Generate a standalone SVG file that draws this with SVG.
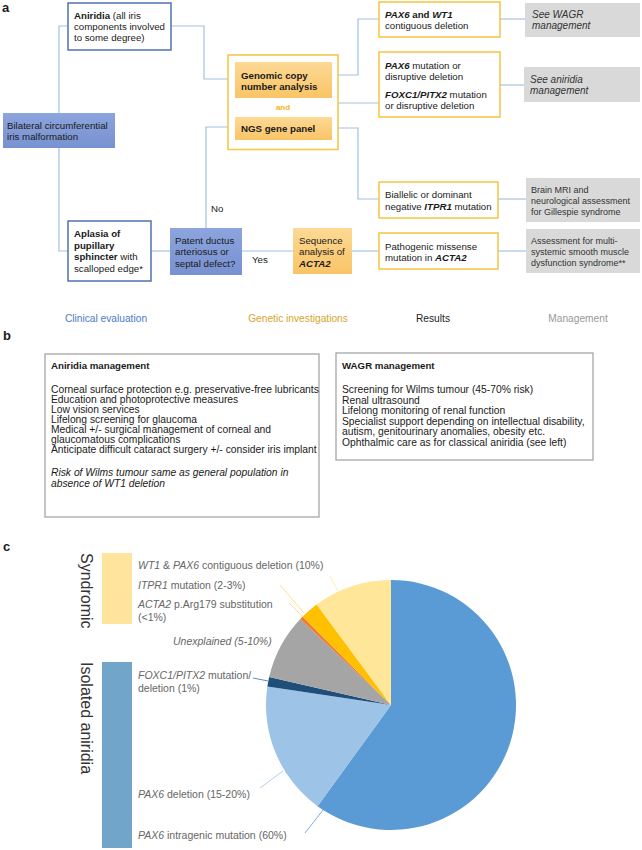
<svg xmlns="http://www.w3.org/2000/svg" width="642" height="850" viewBox="0 0 642 850">
<defs>
<linearGradient id="gBlue" x1="0" y1="0" x2="0" y2="1"><stop offset="0" stop-color="#8ca5de"/><stop offset="1" stop-color="#7891d0"/></linearGradient>
<linearGradient id="gOrange" x1="0" y1="0" x2="0" y2="1"><stop offset="0" stop-color="#fdd995"/><stop offset="1" stop-color="#f9c466"/></linearGradient>
</defs>
<style>
text{font-family:"Liberation Sans",Arial,sans-serif;fill:#1a1a1a}
.t{font-size:9.7px}
.s{font-size:10px;font-style:italic;fill:#333}
.m{font-size:9px;fill:#333}
.b{font-weight:bold}
.i{font-style:italic}
.bi{font-weight:bold;font-style:italic}
.lab{font-size:13px;font-weight:bold}
.wbox{fill:#fff;stroke:#4f73b0;stroke-width:1.5}
.ybox{fill:#fff;stroke:#f5c542;stroke-width:1.5}
.gbox{fill:#d9d9d9}
.bbox{fill:url(#gBlue)}
.obox{fill:url(#gOrange)}
.con{fill:none;stroke:#a3c1e3;stroke-width:1.2}
.hd{font-size:10.2px;text-anchor:middle}
.pb{font-size:10.3px}
.pbt{font-size:9.7px;font-weight:bold}
.mg{fill:#fff;stroke:#a6a6a6;stroke-width:1.3}
.pl{font-size:10.5px;fill:#666}
.side{font-size:16px;fill:#333}
.lead{fill:none;stroke-width:0.8}
</style>

<text class="lab" x="2" y="12">a</text>
<text class="lab" x="3" y="340">b</text>
<text class="lab" x="3" y="551">c</text>

<g id="connectors">
<path class="con" d="M68,26 H59 V251 H68"/>
<path class="con" d="M171,26 H204 V79 H228"/>
<path class="con" d="M228,127 H206 V228"/>
<path class="con" d="M151,251 H170"/>
<path class="con" d="M242,251 H293"/>
<path class="con" d="M352,251 H379"/>
<path class="con" d="M498,251 H526"/>
<path class="con" d="M338,75 H358 V19 H379"/>
<path class="con" d="M338,103 H379"/>
<path class="con" d="M338,128 H358 V199 H379"/>
<path class="con" d="M500,19 H525"/>
<path class="con" d="M500,85 H524"/>
<path class="con" d="M498,199 H526"/>
<text class="t" x="211" y="211.5">No</text>
<text class="t" x="252" y="262.5">Yes</text>
</g>

<g id="aniridia">
<rect class="wbox" x="68" y="3" width="103" height="47"/>
<text class="t" x="74" y="18.5"><tspan class="b">Aniridia</tspan> (all iris</text>
<text class="t" x="74" y="29.5">components involved</text>
<text class="t" x="74" y="40.5">to some degree)</text>
</g>

<g id="bilateral">
<rect class="bbox" x="3" y="113" width="112" height="35"/>
<text class="t" x="7" y="128.5">Bilateral circumferential</text>
<text class="t" x="7" y="139.5">iris malformation</text>
</g>

<g id="genetics">
<rect fill="#fff" stroke="#f5c542" stroke-width="1.5" x="228" y="55" width="110" height="94.5"/>
<rect class="obox" x="235" y="62" width="97" height="36"/>
<text class="t b" x="241" y="78.5">Genomic copy</text>
<text class="t b" x="241" y="89.5">number analysis</text>
<text class="b" x="283" y="110" font-size="8px" text-anchor="middle" style="fill:#f4b41a">and</text>
<rect class="obox" x="235" y="117" width="97" height="23"/>
<text class="t b" x="241" y="131.5">NGS gene panel</text>
</g>

<g id="aplasia">
<rect class="wbox" x="68" y="221" width="83" height="60"/>
<text class="t b" x="74" y="237">Aplasia of</text>
<text class="t b" x="74" y="248.5">pupillary</text>
<text class="t" x="74" y="260"><tspan class="b">sphincter</tspan> with</text>
<text class="t" x="74" y="271.5">scalloped edge*</text>
</g>

<g id="patent">
<rect class="bbox" x="170" y="228" width="72" height="47"/>
<text class="t" x="175" y="243.5">Patent ductus</text>
<text class="t" x="175" y="255">arteriosus or</text>
<text class="t" x="175" y="266.5">septal defect?</text>
</g>

<g id="sequence">
<rect class="obox" x="293" y="228" width="59" height="46"/>
<text class="t" x="299" y="243.5">Sequence</text>
<text class="t" x="299" y="254.5">analysis of</text>
<text class="t bi" x="299" y="266.5">ACTA2</text>
</g>

<g id="pax6wt1">
<rect class="ybox" x="379" y="2" width="121" height="35"/>
<text class="t" x="385" y="17.5"><tspan class="bi">PAX6</tspan><tspan class="b"> and </tspan><tspan class="bi">WT1</tspan></text>
<text class="t" x="385" y="29">contiguous deletion</text>
</g>

<g id="pax6mut">
<rect class="ybox" x="379" y="52" width="121" height="65"/>
<text class="t" x="385" y="68.5"><tspan class="bi">PAX6</tspan> mutation or</text>
<text class="t" x="385" y="79.5">disruptive deletion</text>
<text class="t" x="385" y="97.5"><tspan class="bi">FOXC1/PITX2</tspan> mutation</text>
<text class="t" x="385" y="109">or disruptive deletion</text>
</g>

<g id="biallelic">
<rect class="ybox" x="379" y="182" width="119" height="36"/>
<text class="t" x="385" y="197.5">Biallelic or dominant</text>
<text class="t" x="385" y="210">negative <tspan class="bi">ITPR1</tspan> mutation</text>
</g>

<g id="pathogenic">
<rect class="ybox" x="379" y="233" width="119" height="36"/>
<text class="t" x="385" y="249.5">Pathogenic missense</text>
<text class="t" x="385" y="260.5">mutation in <tspan class="bi">ACTA2</tspan></text>
</g>

<g id="wagr-ref">
<rect class="gbox" x="525" y="3" width="115" height="34"/>
<text class="s" x="532" y="17.5">See WAGR</text>
<text class="s" x="532" y="29">management</text>
</g>

<g id="aniridia-ref">
<rect class="gbox" x="524" y="67" width="116" height="35"/>
<text class="s" x="530" y="82.5">See aniridia</text>
<text class="s" x="530" y="94">management</text>
</g>

<g id="brain">
<rect class="gbox" x="526" y="178" width="114" height="44"/>
<text class="m" x="531" y="192.5">Brain MRI and</text>
<text class="m" x="531" y="204">neurological assessment</text>
<text class="m" x="531" y="214.5">for Gillespie syndrome</text>
</g>

<g id="assessment">
<rect class="gbox" x="526" y="229" width="114" height="44"/>
<text class="m" x="531" y="243.5">Assessment for multi-</text>
<text class="m" x="531" y="254.5">systemic smooth muscle</text>
<text class="m" x="531" y="265.5">dysfunction syndrome**</text>
</g>

<g id="headers">
<text class="hd" x="106" y="322" style="fill:#4a7cc9">Clinical evaluation</text>
<text class="hd" x="298" y="322" style="fill:#d4a62a">Genetic investigations</text>
<text class="hd" x="433" y="322" style="fill:#222">Results</text>
<text class="hd" x="578" y="322" style="fill:#999">Management</text>
</g>

<g id="aniridia-management">
<rect class="mg" x="45" y="354" width="274" height="163"/>
<text class="pbt" x="51" y="369">Aniridia management</text>
<text class="pb" x="51" y="392.5">Corneal surface protection e.g. preservative-free lubricants</text>
<text class="pb" x="51" y="402.5">Education and photoprotective measures</text>
<text class="pb" x="51" y="412.5">Low vision services</text>
<text class="pb" x="51" y="422.5">Lifelong screening for glaucoma</text>
<text class="pb" x="51" y="432.5">Medical +/- surgical management of corneal and</text>
<text class="pb" x="51" y="442.5">glaucomatous complications</text>
<text class="pb" x="51" y="452.5">Anticipate difficult cataract surgery +/- consider iris implant</text>
<text class="pb i" x="51" y="476">Risk of Wilms tumour same as general population in</text>
<text class="pb i" x="51" y="487">absence of WT1 deletion</text>
</g>

<g id="wagr-management">
<rect class="mg" x="336" y="353" width="257" height="107"/>
<text class="pbt" x="342" y="369">WAGR management</text>
<text class="pb" x="342" y="393">Screening for Wilms tumour (45-70% risk)</text>
<text class="pb" x="342" y="403.5">Renal ultrasound</text>
<text class="pb" x="342" y="414">Lifelong monitoring of renal function</text>
<text class="pb" x="342" y="424.5">Specialist support depending on intellectual disability,</text>
<text class="pb" x="342" y="435">autism, genitourinary anomalies, obesity etc.</text>
<text class="pb" x="342" y="445.5">Ophthalmic care as for classical aniridia (see left)</text>
</g>

<g id="pie">
<path fill="#5b9bd5" d="M391,705 L391,580 A125,125 0 1 1 317.53,806.13 Z"/>
<path fill="#9dc3e6" d="M391,705 L317.53,806.13 A125,125 0 0 1 267.37,686.52 Z"/>
<path fill="#1f4e79" d="M391,705 L267.37,686.52 A125,125 0 0 1 269.20,676.88 Z"/>
<path fill="#a5a5a5" d="M391,705 L269.20,676.88 A125,125 0 0 1 300.32,618.95 Z"/>
<path fill="#ed7d31" d="M391,705 L300.32,618.95 A125,125 0 0 1 302.61,616.61 Z"/>
<path fill="#ffc000" d="M391,705 L302.61,616.61 A125,125 0 0 1 316.65,604.51 Z"/>
<path fill="#ffe699" d="M391,705 L316.65,604.51 A125,125 0 0 1 391,580 Z"/>
</g>

<g id="leaders">
<path class="lead" stroke="#ffe699" d="M330,576 L338,591"/>
<path class="lead" stroke="#ffd966" d="M280,585 L304,613"/>
<path class="lead" stroke="#f8cbad" d="M289,603 L302,616"/>
<path class="lead" stroke="#2e75b6" d="M253,678 L268,681"/>
<path class="lead" stroke="#9dc3e6" d="M260,788 L283,771"/>
<path class="lead" stroke="#5b9bd5" d="M305,833 L323,810"/>
</g>

<g id="syndromic">
<rect x="102" y="553" width="30" height="71" fill="#fee49c"/>
<text class="side" transform="translate(80.5,553) rotate(90)">Syndromic</text>
</g>

<g id="isolated">
<rect x="102" y="662" width="30" height="186" fill="#71a5c9"/>
<text class="side" transform="translate(80.5,662) rotate(90)">Isolated aniridia</text>
</g>

<g id="pie-labels">
<text class="pl" x="138" y="568.5"><tspan class="i">WT1</tspan>  &amp; <tspan class="i">PAX6</tspan> contiguous deletion (10%)</text>
<text class="pl" x="138" y="589"><tspan class="i">ITPR1</tspan> mutation (2-3%)</text>
<text class="pl" x="138" y="608"><tspan class="i">ACTA2</tspan> p.Arg179 substitution</text>
<text class="pl" x="138" y="621">(&lt;1%)</text>
<text class="pl i" x="173" y="644.5">Unexplained (5-10%)</text>
<text class="pl" x="138" y="678.5"><tspan class="i">FOXC1/PITX2</tspan> mutation/</text>
<text class="pl" x="138" y="691.5">deletion (1%)</text>
<text class="pl" x="138" y="797.5"><tspan class="i">PAX6</tspan> deletion (15-20%)</text>
<text class="pl" x="138" y="838.5"><tspan class="i">PAX6</tspan> intragenic mutation (60%)</text>
</g>
</svg>
